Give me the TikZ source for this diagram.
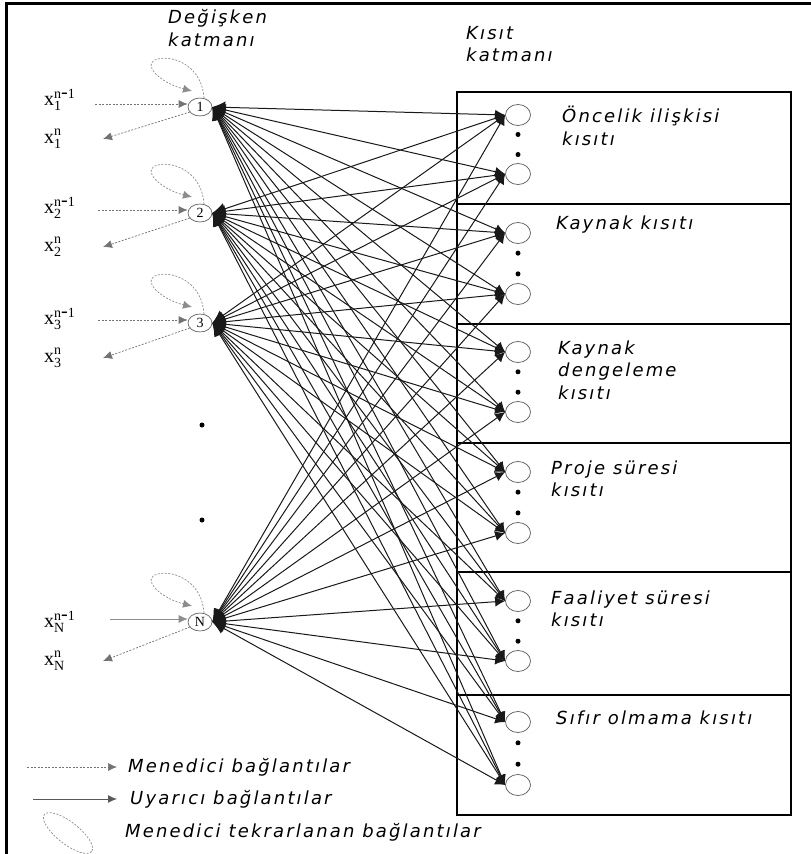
\documentclass[tikz,border=0pt]{standalone}
\usepackage{fontspec}
\setmainfont{Liberation Serif}
\newfontfamily\labelfont[LetterSpace=12]{DejaVu Sans}
\usetikzlibrary{arrows.meta,shapes.geometric,calc}

\begin{document}
\begin{tikzpicture}[x=1pt,y=-1pt,
  wire/.style={draw=black!90,line width=1pt,
    {Latex[length=13pt,width=12pt]}-{Latex[length=10pt,width=10pt]}},
  inhib/.style={draw=black!55,line width=0.7pt,dash pattern=on 2pt off 1.5pt,
    -{Latex[length=9pt,width=8pt]}},
  loopline/.style={draw=black!45,line width=0.7pt,dash pattern=on 2pt off 1.5pt,
    -{Latex[length=9pt,width=8pt]}},
  excite/.style={draw=black!65,line width=1pt,-{Latex[length=9pt,width=8pt]}},
  varnode/.style={ellipse,draw=black!60,line width=0.7pt,minimum width=24pt,
    minimum height=18pt,inner sep=0pt,fill=white,font=\fontsize{14}{14}\selectfont},
  connode/.style={ellipse,draw=black!65,line width=0.7pt,minimum width=25pt,
    minimum height=21pt,inner sep=0pt},
  lbl/.style={anchor=west,inner sep=0pt,align=left,
    font=\labelfont\itshape\fontsize{18}{22.5}\selectfont},
  xlbl/.style={anchor=west,inner sep=0pt,font=\fontsize{20}{20}\selectfont},
  dotmark/.style={circle,fill=black,inner sep=0pt,minimum size=5pt},
  frame/.style={draw=black,line width=1.5pt}]

\useasboundingbox (0,0) rectangle (811,854);

% frame edges
\draw[line width=3pt] (6,854) -- (6,3) -- (811,3);

% headings
\node[lbl] (hvar) at (168,28) {Değişken\\katmanı};
\node[lbl] (hcon) at (466,44) {Kısıt\\katmanı};

% constraint groups
\draw[frame] (457,92) rectangle (791,815);
\foreach \yy in {204,324,443,572,695} \draw[frame] (457,\yy) -- (791,\yy);

\node[lbl] (t1) at (562,126) {Öncelik ilişkisi\\kısıtı};
\node[lbl] (t2) at (556,225) {Kaynak kısıtı};
\node[lbl] (t3) at (558,370) {Kaynak\\dengeleme\\kısıtı};
\node[lbl] (t4) at (551,479) {Proje süresi\\kısıtı};
\node[lbl] (t5) at (551,609) {Faaliyet süresi\\kısıtı};
\node[lbl] (t6) at (556,718) {Sıfır olmama kısıtı};

% constraint neurons
\foreach \n/\yy in {1/115,2/174,3/233,4/294,5/352,6/412,7/472,8/533,9/601,10/661,11/722,12/785}
  \node[connode] (c\n) at (518,\yy) {};
\foreach \a/\b in {1/2,3/4,5/6,7/8,9/10,11/12} {
  \node[dotmark] at ($(c\a)!0.33!(c\b)$) {};
  \node[dotmark] at ($(c\a)!0.67!(c\b)$) {};
}

% variable neurons
\node[varnode] (v1) at (200,107) {1};
\node[varnode] (v2) at (200,213) {2};
\node[varnode] (v3) at (200,323) {3};
\node[varnode] (vN) at (200,622) {N};
\node[dotmark] (d1) at (202,425) {};
\node[dotmark] (d2) at (202,520) {};

% full connection between the two layers
\foreach \v in {v1,v2,v3,vN}
  \foreach \c in {1,...,12}
    \draw[wire] (\v.east) -- (c\c.west);

% inputs, outputs and self loops of the variable neurons
\foreach \v/\k/\yo in {v1/1/139,v2/2/247,v3/3/358,vN/N/661} {
  \coordinate (in\k) at ($(\v.west)+(0,-3)$);
  \coordinate (out\k) at (103,\yo);
  \node[xlbl] (xa\k) at (44,{\yo-39}) {$\mathrm{x}_{\mathrm{\k}}^{\mathrm{n\mbox{-}1}}$};
  \node[xlbl] (xb\k) at (44,\yo) {$\mathrm{x}_{\mathrm{\k}}^{\mathrm{n}}$};
  \draw[inhib] ($(\v)+(-10,5)$) -- (out\k);
  \draw[loopline] ($(\v)+(4,-9)$) .. controls ($(\v)+(2,-40)$) and ($(\v)+(-25,-52)$) .. ($(\v)+(-42,-48)$)
    .. controls ($(\v)+(-60,-44)$) and ($(\v)+(-40,-24)$) .. ($(\v)+(-8,-16)$);
}
\coordinate (s1) at (95,104);
\coordinate (s2) at (98,210);
\coordinate (s3) at (98,320);
\coordinate (sN) at (110,619);
\draw[inhib] (s1) -- (in1);
\draw[inhib] (s2) -- (in2);
\draw[inhib] (s3) -- (in3);
\draw[excite,draw=black!45,line width=0.7pt] (sN) -- (inN);

% legend
\coordinate (la) at (27,767);
\coordinate (lb) at (117,767);
\coordinate (lc) at (33,799);
\coordinate (ld) at (117,799);
\draw[inhib] (la) -- (lb);
\draw[excite] (lc) -- (ld);
\draw[draw=black!45,line width=0.7pt,dash pattern=on 2pt off 1.5pt,rotate around={-38:(68,833)}]
  (68,833) ellipse (30 and 11);
\node[lbl] (l1) at (128,767) {Menedici bağlantılar};
\node[lbl] (l2) at (130,799) {Uyarıcı bağlantılar};
\node[lbl] (l3) at (125,832) {Menedici tekrarlanan bağlantılar};
\end{tikzpicture}
\end{document}
